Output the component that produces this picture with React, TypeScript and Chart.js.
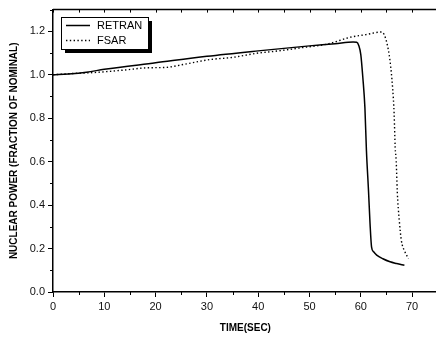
import React, { useEffect, useRef } from "react";
import { Chart, registerables } from "chart.js";

Chart.register(...registerables);

const retranTime = [0, 3, 6.5, 10, 20, 30, 40, 50, 55, 58.5, 59.2, 59.6, 60.0, 60.4, 60.8, 61.1, 61.5, 61.8, 62.1, 62.5, 63.1, 64.3, 65.7, 67.0, 68.5];
const retranPower = [1.0, 1.004, 1.012, 1.025, 1.055, 1.085, 1.11, 1.133, 1.143, 1.151, 1.15, 1.135, 1.093, 0.986, 0.849, 0.65, 0.467, 0.315, 0.207, 0.185, 0.17, 0.153, 0.139, 0.131, 0.123];

const fsarTime = [0, 4, 8.5, 14, 18.3, 22, 26, 30.6, 35, 40, 44, 48.3, 53.6, 58, 61, 64.1, 65.0, 65.7, 66.2, 66.5, 66.7, 66.9, 67.1, 67.5, 67.9, 68.6, 69.3];
const fsarPower = [1.0, 1.006, 1.011, 1.022, 1.032, 1.034, 1.05, 1.07, 1.08, 1.1, 1.11, 1.124, 1.142, 1.173, 1.185, 1.197, 1.154, 1.063, 0.94, 0.819, 0.666, 0.605, 0.467, 0.33, 0.238, 0.185, 0.154];

const xTicks = [0, 10, 20, 30, 40, 50, 60, 70];
const yTicks = [0.0, 0.2, 0.4, 0.6, 0.8, 1.0, 1.2];
const xMinorTicks = [5, 15, 25, 35, 45, 55, 65, 75];
const yMinorTicks = [0.1, 0.3, 0.5, 0.7, 0.9, 1.1, 1.3];

const seriesNames = ["RETRAN", "FSAR"];
const xTitle = "TIME(SEC)";
const yTitle = "NUCLEAR POWER (FRACTION OF NOMINAL)";

const FONT = "'Liberation Sans', Arial, sans-serif";

const framePlugin = {
  id: "frame",
  afterDraw(chart: any) {
    const { ctx, chartArea } = chart;
    const xs = chart.scales.x;
    const ys = chart.scales.y;
    ctx.save();
    ctx.strokeStyle = "#000";
    ctx.lineWidth = 1.5;
    ctx.beginPath();
    ctx.moveTo(chartArea.left, chartArea.top);
    ctx.lineTo(chartArea.right + 2, chartArea.top);
    ctx.stroke();
    ctx.lineWidth = 1;
    ctx.beginPath();
    for (const v of xMinorTicks) {
      const px = Math.round(xs.getPixelForValue(v)) + 0.5;
      ctx.moveTo(px, chartArea.bottom);
      ctx.lineTo(px, chartArea.bottom + 3);
    }
    for (const v of [...xTicks, ...xMinorTicks]) {
      const px = Math.round(xs.getPixelForValue(v)) + 0.5;
      ctx.moveTo(px, chartArea.top);
      ctx.lineTo(px, chartArea.top + 3);
    }
    for (const v of yMinorTicks) {
      const py = Math.round(ys.getPixelForValue(v)) + 0.5;
      ctx.moveTo(chartArea.left, py);
      ctx.lineTo(chartArea.left - 3, py);
    }
    ctx.stroke();

    const bx = 61, by = 17, bw = 87, bh = 32;
    ctx.fillStyle = "#000";
    ctx.fillRect(bx + 4, by + 4, bw, bh);
    ctx.fillStyle = "#fff";
    ctx.fillRect(bx, by, bw, bh);
    ctx.lineWidth = 1;
    ctx.strokeRect(bx + 0.5, by + 0.5, bw, bh);
    const ds = chart.data.datasets;
    const rows = [25, 40];
    ds.forEach((d: any, i: number) => {
      ctx.beginPath();
      ctx.lineWidth = d.borderWidth;
      ctx.setLineDash(d.borderDash || []);
      ctx.moveTo(66, rows[i] + 0.5);
      ctx.lineTo(90, rows[i] + 0.5);
      ctx.stroke();
      ctx.setLineDash([]);
      ctx.fillStyle = "#000";
      ctx.font = `11px ${FONT}`;
      ctx.textBaseline = "middle";
      ctx.textAlign = "left";
      ctx.fillText(d.label, 97, rows[i] + 0.5);
    });
    ctx.restore();
  },
};

export default function App() {
  const ref = useRef<HTMLCanvasElement | null>(null);
  useEffect(() => {
    if (!ref.current) return;
    const chart = new Chart(ref.current, {
      type: "line",
      data: {
        datasets: [
          {
            label: seriesNames[0],
            data: retranTime.map((t, i) => ({ x: t, y: retranPower[i] })),
            borderColor: "#000",
            borderWidth: 1.5,
            pointRadius: 0,
            cubicInterpolationMode: "monotone",
            fill: false,
          },
          {
            label: seriesNames[1],
            data: fsarTime.map((t, i) => ({ x: t, y: fsarPower[i] })),
            borderColor: "#000",
            borderWidth: 1.4,
            borderDash: [1.4, 2.4],
            pointRadius: 0,
            cubicInterpolationMode: "monotone",
            fill: false,
          },
        ],
      },
      options: {
        animation: false,
        responsive: false,
        maintainAspectRatio: false,
        layout: { padding: { top: 8, right: 2.25, left: 0, bottom: 0 } },
        plugins: { legend: { display: false }, tooltip: { enabled: false } },
        scales: {
          x: {
            type: "linear",
            min: 0,
            max: 75,
            afterFit(scale: any) {
              scale.height = 48;
            },
            afterBuildTicks(scale: any) {
              scale.ticks = xTicks.map((v) => ({ value: v }));
            },
            ticks: {
              font: { family: FONT, size: 11 },
              color: "#111",
              maxRotation: 0,
              autoSkip: false,
              padding: 3,
              callback: (v: any) => String(v),
            },
            grid: { drawOnChartArea: false, drawTicks: true, tickLength: 5, color: "#000", lineWidth: 1 },
            border: { display: true, color: "#000", width: 1.5 },
            title: {
              display: true,
              text: xTitle,
              font: { family: FONT, size: 10, weight: "bold" },
              color: "#000",
              padding: { top: 0, bottom: 6 },
            },
          },
          y: {
            type: "linear",
            min: 0,
            max: 1.3,
            afterFit(scale: any) {
              scale.width = 53;
            },
            afterBuildTicks(scale: any) {
              scale.ticks = yTicks.map((v) => ({ value: v }));
            },
            ticks: {
              font: { family: FONT, size: 11 },
              color: "#111",
              autoSkip: false,
              padding: 3,
              callback: (v: any) => Number(v).toFixed(1),
            },
            grid: { drawOnChartArea: false, drawTicks: true, tickLength: 5, color: "#000", lineWidth: 1 },
            border: { display: true, color: "#000", width: 1.5 },
            title: {
              display: true,
              text: yTitle,
              font: { family: FONT, size: 10, weight: "bold" },
              color: "#000",
              padding: { top: 8, bottom: 0 },
            },
          },
        },
      },
      plugins: [framePlugin],
    });
    return () => chart.destroy();
  }, []);
  return (
    <div style={{ position: "fixed", left: 0, top: 0, width: 436, height: 340, overflow: "hidden", background: "#fff" }}>
      <canvas ref={ref} width={440} height={340} style={{ width: 440, height: 340, display: "block" }} />
    </div>
  );
}
